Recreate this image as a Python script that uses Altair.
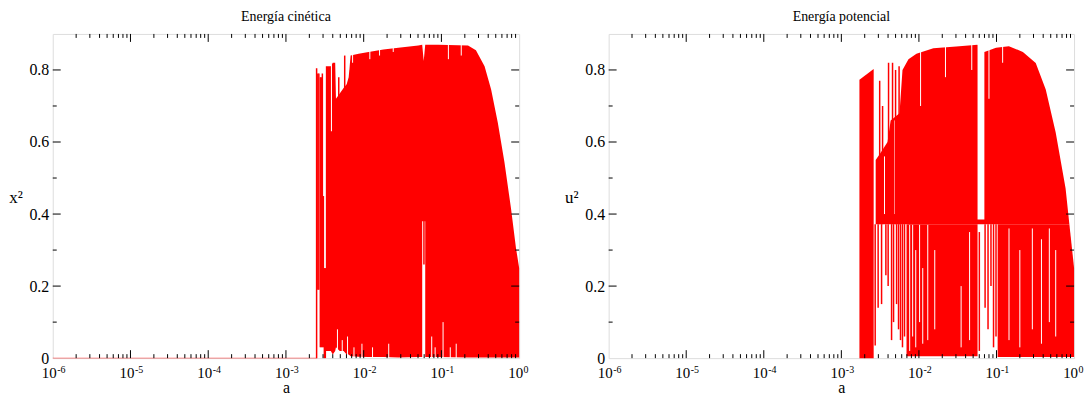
import altair as alt
import pandas as pd

FONT = "Liberation Serif"
RED = "#ff0000"
W1, W2, H = 469, 468, 326

# ---------------- Energía cinética (x^2) ----------------
k_seg = ["main"] * 28
k_a = [3.26e-3, 3.78e-3, 4.00e-3, 4.30e-3, 4.40e-3, 4.92e-3, 5.52e-3, 6.04e-3, 6.41e-3, 6.79e-3,
       8.61e-3, 1.156e-2, 1.795e-2, 2.79e-2, 5.04e-2, 5.66e-2, 5.92e-2, 6.19e-2, 9.08e-2, 0.220,
       0.278, 0.359, 0.436, 0.531, 0.647, 0.785, 0.910, 1.0]
k_hi = [0.81, 0.81, 0.82, 0.82, 0.72, 0.735, 0.75, 0.76, 0.78, 0.84,
        0.845, 0.85, 0.857, 0.862, 0.868, 0.870, 0.825, 0.870, 0.870, 0.868,
        0.855, 0.81, 0.746, 0.654, 0.544, 0.416, 0.306, 0.25]
k_lo = [0.02, 0.02, 0.01, 0.02, 0.03, 0.02, 0.02, 0.01, 0.01, 0.005,
        0.004, 0.003, 0.003, 0.002, 0.003, 0.003, 0.003, 0.003, 0.003, 0.002,
        0.002, 0.002, 0.002, 0.002, 0.002, 0.002, 0.002, 0.002]
# value zero before the onset
k_zero_a = [1e-6, 2.48e-3]
k_zero_v = [0.0, 0.0]
# isolated vertical strokes
k_sp_a = [2.48e-3, 2.57e-3, 2.65e-3, 2.77e-3, 2.85e-3, 2.94e-3, 3.03e-3, 3.12e-3, 3.21e-3, 4.78e-3, 5.70e-3, 5.96e-2]
k_sp_lo = [0.0, 0.19, 0.19, 0.03, 0.03, 0.03, 0.03, 0.0, 0.0, 0.50, 0.50, 0.26]
k_sp_hi = [0.805, 0.79, 0.79, 0.78, 0.78, 0.79, 0.45, 0.25, 0.25, 0.78, 0.84, 0.40]
# white gaps
k_gap_a0 = [3.79e-3, 5.66e-2]
k_gap_a1 = [3.91e-3, 6.19e-2]
k_gap_lo = [0.63, 0.0]
k_gap_hi = [0.83, 0.38]
# thin white slits
k_wl_a = [4.6e-3, 5.3e-3, 6.2e-3, 7.5e-3, 9.5e-3, 1.3e-2, 2.1e-2, 7.5e-2, 8.3e-2, 1.05e-1, 1.3e-1, 1.55e-1,
          6.4e-3, 7.2e-3, 1.2e-2, 1.6e-2, 2.4e-2, 1.23e-1, 1.8e-1]
k_wl_lo = [0.0, 0.0, 0.0, 0.0, 0.0, 0.0, 0.0, 0.0, 0.0, 0.0, 0.0, 0.0,
           0.80, 0.82, 0.83, 0.84, 0.85, 0.83, 0.84]
k_wl_hi = [0.08, 0.05, 0.06, 0.03, 0.04, 0.03, 0.04, 0.06, 0.03, 0.10, 0.03, 0.04,
           0.85, 0.86, 0.86, 0.87, 0.87, 0.88, 0.88]

# ---------------- Energía potencial (u^2) ----------------
p_seg = (["block"] * 2 + ["upper"] * 20 + ["lower1"] * 2 + ["lower2"] * 3)
p_a = [1.71e-3, 2.61e-3,
       2.77e-3, 3.21e-3, 3.94e-3, 4.32e-3, 5.62e-3, 6.14e-3, 7.33e-3, 9.29e-3, 1.535e-2, 3.03e-2,
       5.70e-2, 6.98e-2, 9.86e-2, 0.1445, 0.2188, 0.3206, 0.4315, 0.579, 0.778, 0.87,
       6.92e-3, 5.70e-2,
       0.1035, 0.87, 1.0]
p_hi = [0.773, 0.803,
        0.55, 0.57, 0.60, 0.66, 0.68, 0.80, 0.83, 0.845, 0.86, 0.865,
        0.87, 0.85, 0.862, 0.866, 0.85, 0.819, 0.746, 0.627, 0.471, 0.372,
        0.372, 0.372,
        0.372, 0.372, 0.251]
p_lo = [0.0, 0.0,
        0.372, 0.372, 0.372, 0.372, 0.372, 0.372, 0.372, 0.372, 0.372, 0.372,
        0.372, 0.372, 0.372, 0.372, 0.372, 0.372, 0.372, 0.372, 0.372, 0.372,
        0.005, 0.005,
        0.003, 0.003, 0.003]
p_zero_a = []
p_zero_v = []
p_sp_a = [2.73e-3, 2.98e-3, 3.30e-3, 3.75e-3, 4.01e-3, 4.44e-3, 4.71e-3, 5.15e-3, 5.46e-3, 5.79e-3, 6.14e-3, 6.52e-3,
          3.12e-3, 3.40e-3, 4.06e-3, 4.57e-3, 5.00e-3, 5.55e-3,
          6.01e-2, 7.13e-2, 7.78e-2, 8.49e-2, 9.16e-2, 9.86e-2]
p_sp_lo = [0.035, 0.14, 0.15, 0.23, 0.20, 0.05, 0.10, 0.15, 0.08, 0.05, 0.03, 0.06,
           0.372, 0.372, 0.372, 0.372, 0.372, 0.372,
           0.02, 0.14, 0.08, 0.20, 0.03, 0.06]
p_sp_hi = [0.372, 0.372, 0.372, 0.372, 0.372, 0.372, 0.372, 0.372, 0.372, 0.372, 0.372, 0.372,
           0.77, 0.70, 0.82, 0.82, 0.80, 0.81,
           0.35, 0.372, 0.372, 0.372, 0.372, 0.372]
p_gap_a0 = [5.70e-2]
p_gap_a1 = [6.98e-2]
p_gap_lo = [0.385]
p_gap_hi = [0.88]
p_wl_a = [7.6e-3, 8.3e-3, 9.1e-3, 1.02e-2, 1.12e-2, 1.3e-2, 1.6e-2, 3.5e-2, 4.5e-2,
          0.145, 0.20, 0.29, 0.38, 0.48, 0.58,
          3.6e-3, 4.9e-3, 1.05e-2, 2.2e-2, 4.8e-2, 8.0e-2, 0.12]
p_wl_lo = [0.02, 0.06, 0.03, 0.10, 0.04, 0.05, 0.08, 0.03, 0.05,
           0.05, 0.03, 0.08, 0.04, 0.10, 0.06,
           0.40, 0.40, 0.70, 0.78, 0.80, 0.72, 0.82]
p_wl_hi = [0.37, 0.37, 0.30, 0.37, 0.25, 0.37, 0.30, 0.20, 0.35,
           0.36, 0.30, 0.36, 0.33, 0.36, 0.30,
           0.56, 0.66, 0.86, 0.87, 0.88, 0.86, 0.87]

# ---------------- axes ----------------
x_major = [1e-6, 1e-5, 1e-4, 1e-3, 1e-2, 1e-1, 1.0]
x_exp = ["-6", "-5", "-4", "-3", "-2", "-1", "0"]
x_inner = [1e-5, 1e-4, 1e-3, 1e-2, 1e-1]
x_minor = [m * 10.0 ** e for e in range(-6, 0) for m in range(2, 10)]
y_labels = [0, 0.2, 0.4, 0.6, 0.8]
y_major = [0.2, 0.4, 0.6, 0.8]
y_minor = [0.1, 0.3, 0.5, 0.7]


def panel(title, ytitle, seg, a, lo, hi, za, zv, sa, slo, shi, ga0, ga1, glo, ghi, wa, wlo, whi, W):
    xs = alt.Scale(type="log", domain=[1e-6, 1.0], nice=False)
    ys = alt.Scale(domain=[0, 0.9], nice=False, zero=False)
    xax = alt.Axis(labels=False, ticks=False, domain=False, grid=False, title="a",
                   titleFont=FONT, titleFontSize=16, titleFontWeight="normal",
                   titlePadding=22, titleColor="black")
    yax = alt.Axis(values=y_labels,
                   labelExpr="datum.value == 0 ? '0' : format(datum.value, '.1f')",
                   ticks=False, domain=False, grid=False, labelFont=FONT, labelFontSize=16,
                   labelColor="black", labelPadding=4, title=ytitle, titleAngle=0,
                   titleX=-37.5, titleY=164, titleAlign="center", titleBaseline="middle",
                   titleFont=FONT, titleFontSize=17, titleFontWeight="normal", titleColor="black")
    area_df = pd.DataFrame({"seg": seg, "a": a, "lo": lo, "hi": hi})
    sp_df = pd.DataFrame({"a": sa, "lo": slo, "hi": shi})
    gap_df = pd.DataFrame({"a0": ga0, "a1": ga1, "lo": glo, "hi": ghi})
    wl_df = pd.DataFrame({"a": wa, "lo": wlo, "hi": whi})

    X = lambda f: alt.X(f, scale=xs, axis=xax)
    Y = lambda f: alt.Y(f, scale=ys, axis=yax)

    layers = []
    layers.append(alt.Chart(area_df).mark_area(color=RED, opacity=1).encode(
        x=X("a:Q"), y=Y("lo:Q"), y2="hi:Q", detail="seg:N",
    ))
    layers.append(alt.Chart(wl_df).mark_rule(color="white", strokeWidth=1).encode(
        x=X("a:Q"), y=Y("lo:Q"), y2="hi:Q",
    ))
    layers.append(alt.Chart(gap_df).mark_rect(color="white", opacity=1).encode(
        x=X("a0:Q"), x2="a1:Q", y=Y("lo:Q"), y2="hi:Q",
    ))
    layers.append(alt.Chart(sp_df).mark_rule(color=RED, strokeWidth=1.5).encode(
        x=X("a:Q"), y=Y("lo:Q"), y2="hi:Q",
    ))
    if len(za):
        zdf = pd.DataFrame({"a": za, "v": zv})
        layers.append(alt.Chart(zdf).mark_line(color=RED, strokeWidth=1.2, opacity=0.35).encode(
            x=X("a:Q"), y=Y("v:Q")))
    xmaj = pd.DataFrame({"t": x_inner})
    xmin = pd.DataFrame({"t": x_minor})
    ymaj = pd.DataFrame({"v": y_major})
    ymin = pd.DataFrame({"v": y_minor})
    for df, ln in ((xmaj, 8), (xmin, 4)):
        layers.append(alt.Chart(df).mark_rule(color="black", strokeWidth=1).encode(
            x=X("t:Q"), y=alt.value(0), y2=alt.value(ln)))
        layers.append(alt.Chart(df).mark_rule(color="black", strokeWidth=1).encode(
            x=X("t:Q"), y=alt.value(H), y2=alt.value(H - ln)))
    for df, ln in ((ymaj, 8), (ymin, 4)):
        layers.append(alt.Chart(df).mark_rule(color="black", strokeWidth=1).encode(
            y=Y("v:Q"), x=alt.value(0), x2=alt.value(ln)))
        layers.append(alt.Chart(df).mark_rule(color="black", strokeWidth=1).encode(
            y=Y("v:Q"), x=alt.value(W - ln), x2=alt.value(W)))
    lab_df = pd.DataFrame({"t": x_major, "e": x_exp, "b": ["10"] * len(x_major)})
    layers.append(alt.Chart(lab_df).mark_text(font=FONT, fontSize=15, align="right", baseline="alphabetic",
                                              dx=4, color="black").encode(
        x=X("t:Q"), y=alt.value(H + 20), text="b:N"))
    layers.append(alt.Chart(lab_df).mark_text(font=FONT, fontSize=10, align="left", baseline="alphabetic",
                                              dx=4.5, color="black").encode(
        x=X("t:Q"), y=alt.value(H + 15), text="e:N"))
    return alt.layer(*layers).properties(
        width=W, height=H,
        title=alt.Title(title, font=FONT, fontSize=14, fontWeight="normal", color="black",
                        anchor="middle", offset=10),
    )


left = panel("Energía cinética", "x²", k_seg, k_a, k_lo, k_hi, k_zero_a, k_zero_v,
             k_sp_a, k_sp_lo, k_sp_hi, k_gap_a0, k_gap_a1, k_gap_lo, k_gap_hi,
             k_wl_a, k_wl_lo, k_wl_hi, W1)
right = panel("Energía potencial", "u²", p_seg, p_a, p_lo, p_hi, p_zero_a, p_zero_v,
              p_sp_a, p_sp_lo, p_sp_hi, p_gap_a0, p_gap_a1, p_gap_lo, p_gap_hi,
              p_wl_a, p_wl_lo, p_wl_hi, W2)

chart = alt.hconcat(left, right, spacing=35).properties(padding=0).configure_view(
    stroke="black", strokeWidth=1.5
).configure(background="white")

chart.save("out.html", embed_options={"renderer": "svg", "actions": False})
